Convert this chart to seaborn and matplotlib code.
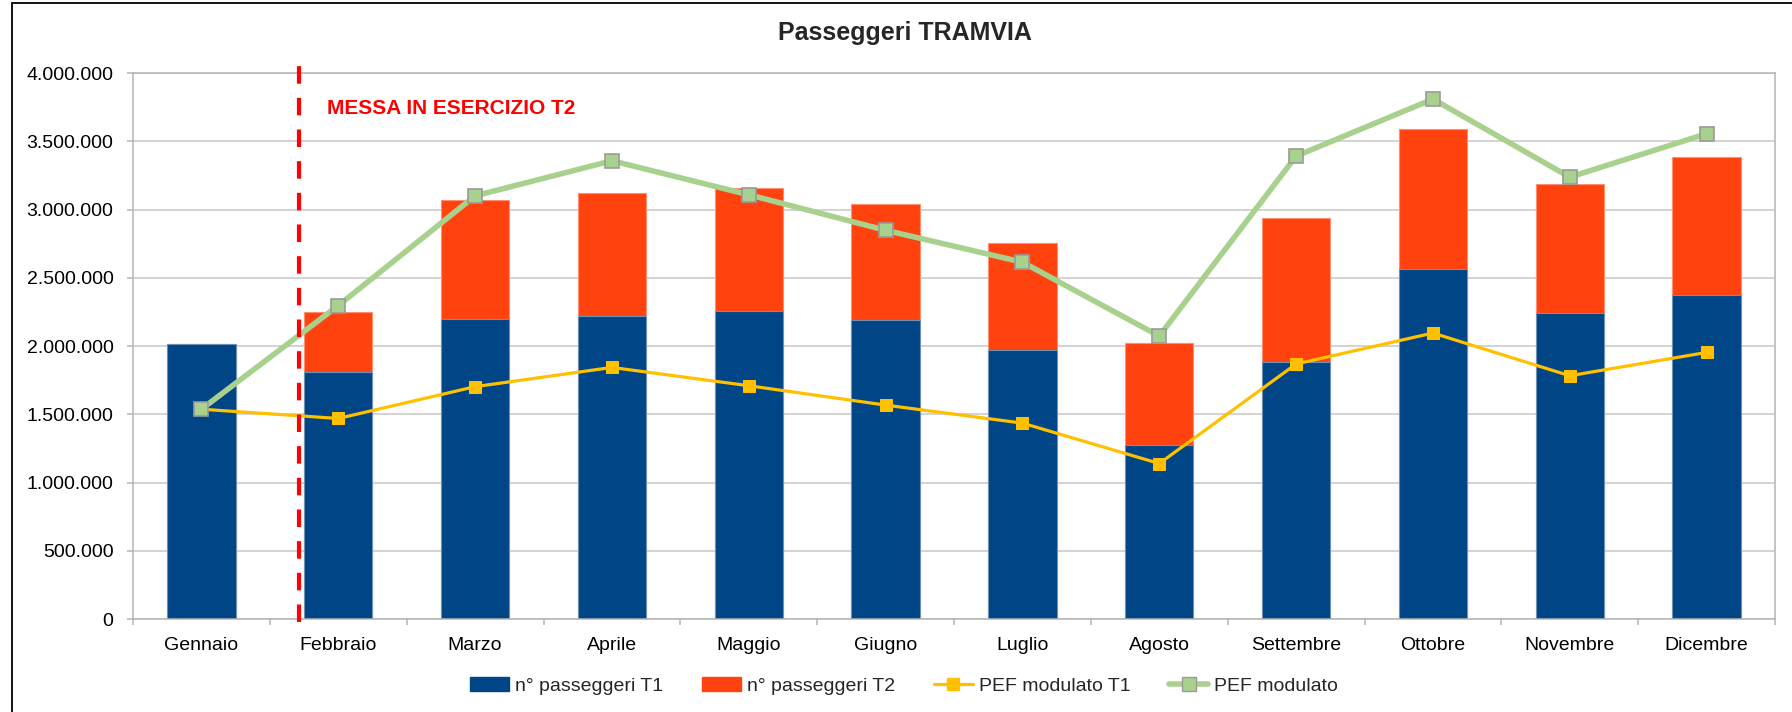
import numpy as np
import pandas as pd
import matplotlib
matplotlib.use("Agg")
import matplotlib.pyplot as plt
import seaborn as sns
from matplotlib.patches import Patch, Rectangle
from matplotlib.lines import Line2D
from matplotlib.ticker import MultipleLocator, FuncFormatter

# Data
mesi = ["Gennaio", "Febbraio", "Marzo", "Aprile", "Maggio", "Giugno",
        "Luglio", "Agosto", "Settembre", "Ottobre", "Novembre", "Dicembre"]
passeggeri_t1 = [2018000, 1812000, 2200000, 2222000, 2257000, 2191000,
                 1973000, 1274000, 1885000, 2562000, 2242000, 2376000]
passeggeri_t2 = [0, 435000, 870000, 897000, 897000, 848000,
                 782000, 748000, 1051000, 1029000, 944000, 1005000]
pef_modulato_t1 = [1537000, 1469000, 1702000, 1843000, 1709000, 1567000,
                   1435000, 1139000, 1868000, 2095000, 1782000, 1953000]
pef_modulato = [1537000, 2296000, 3100000, 3357000, 3108000, 2848000,
                2614000, 2073000, 3391000, 3809000, 3237000, 3555000]
inizio_t2 = 0.71  # position of the "messa in esercizio" marker (category units)

df = pd.DataFrame({"mese": mesi, "t1": passeggeri_t1, "t2": passeggeri_t2})
df["totale"] = df["t1"] + df["t2"]

blu = "#004586"
arancio = "#ff420e"
giallo = "#ffc000"
verde = "#a9d18e"
grigio = "#b4b4b4"

sns.set_style("white")
plt.rcParams["font.family"] = ["Liberation Sans", "DejaVu Sans"]

fig = plt.figure(figsize=(17.92, 7.12), dpi=100)
ax = fig.add_axes([133 / 1792, 1 - 619 / 712, 1642 / 1792, 546 / 712])

# stacked bars: total (T1+T2) behind, T1 in front
sns.barplot(data=df, x="mese", y="totale", color=arancio, width=0.5, saturation=1,
            edgecolor="#ff8f70", linewidth=0.8, ax=ax, zorder=2)
sns.barplot(data=df, x="mese", y="t1", color=blu, width=0.5, saturation=1,
            edgecolor="#6f8fb3", linewidth=0.8, ax=ax, zorder=2)

x = np.arange(len(mesi))
sns.lineplot(x=x, y=pef_modulato_t1, color=giallo, linewidth=2.3, marker="s",
             markersize=9, markeredgecolor=giallo, ax=ax, zorder=4)
sns.lineplot(x=x, y=pef_modulato, color=verde, linewidth=4, marker="s",
             markersize=10, markeredgecolor="#9a9a9a", markeredgewidth=1.2,
             ax=ax, zorder=5)

# T2 start marker
ax.axvline(inizio_t2, ymin=-0.006, ymax=1.017, color="#ff0000", linewidth=3,
           dashes=(4.2, 3.4), clip_on=False, zorder=6)
ax.text(inizio_t2 + 0.21, 3737000, "MESSA IN ESERCIZIO T2", color="#ff0000",
        fontsize=15, fontweight="bold", ha="left", va="center")

# axes styling
ax.set_xlim(-0.5, len(mesi) - 0.5)
ax.set_ylim(0, 4000000)
ax.yaxis.set_major_locator(MultipleLocator(500000))
ax.yaxis.set_major_formatter(FuncFormatter(lambda v, p: f"{int(v):,}".replace(",", ".")))
ax.set_xticks(x)
ax.set_xticklabels(mesi)
ax.set_xticks(np.arange(-0.5, len(mesi), 1), minor=True)
ax.set_xlabel("")
ax.set_ylabel("")
ax.grid(axis="y", color="#c8c8c8", linewidth=1.1, zorder=0)
ax.set_axisbelow(True)
for side in ["left", "bottom", "right", "top"]:
    ax.spines[side].set_color(grigio)
    ax.spines[side].set_linewidth(1.1)
ax.tick_params(axis="x", which="major", length=0, pad=13, labelsize=14, colors="black")
ax.tick_params(axis="x", which="minor", length=4, width=1.1, color=grigio, bottom=True)
ax.tick_params(axis="y", length=4, width=1.1, color=grigio, pad=10, labelsize=14,
               left=True, labelcolor="black")

fig.text(905 / 1792, 1 - 33 / 712, "Passeggeri TRAMVIA", fontsize=18,
         fontweight="bold", ha="center", va="center")

handles = [
    Patch(facecolor=blu, edgecolor=blu, label="n° passeggeri T1"),
    Patch(facecolor=arancio, edgecolor=arancio, label="n° passeggeri T2"),
    Line2D([], [], color=giallo, linewidth=2.3, marker="s", markersize=9,
           markeredgecolor=giallo, label="PEF modulato T1"),
    Line2D([], [], color=verde, linewidth=4, marker="s", markersize=10,
           markeredgecolor="#9a9a9a", label="PEF modulato"),
]
fig.legend(handles=handles, loc="center", bbox_to_anchor=(904 / 1792, 1 - 686 / 712),
           ncol=4, frameon=False, fontsize=14, handlelength=2.0,
           handletextpad=0.3, columnspacing=2.0)

# outer chart border (only left and top edges fall inside the image)
fig.add_artist(Rectangle((12 / 1792, -0.1), 1.5, 1 - 3 / 712 + 0.1,
                         transform=fig.transFigure, fill=False,
                         edgecolor="black", linewidth=1.3))

fig.savefig("out.png", dpi=100)
